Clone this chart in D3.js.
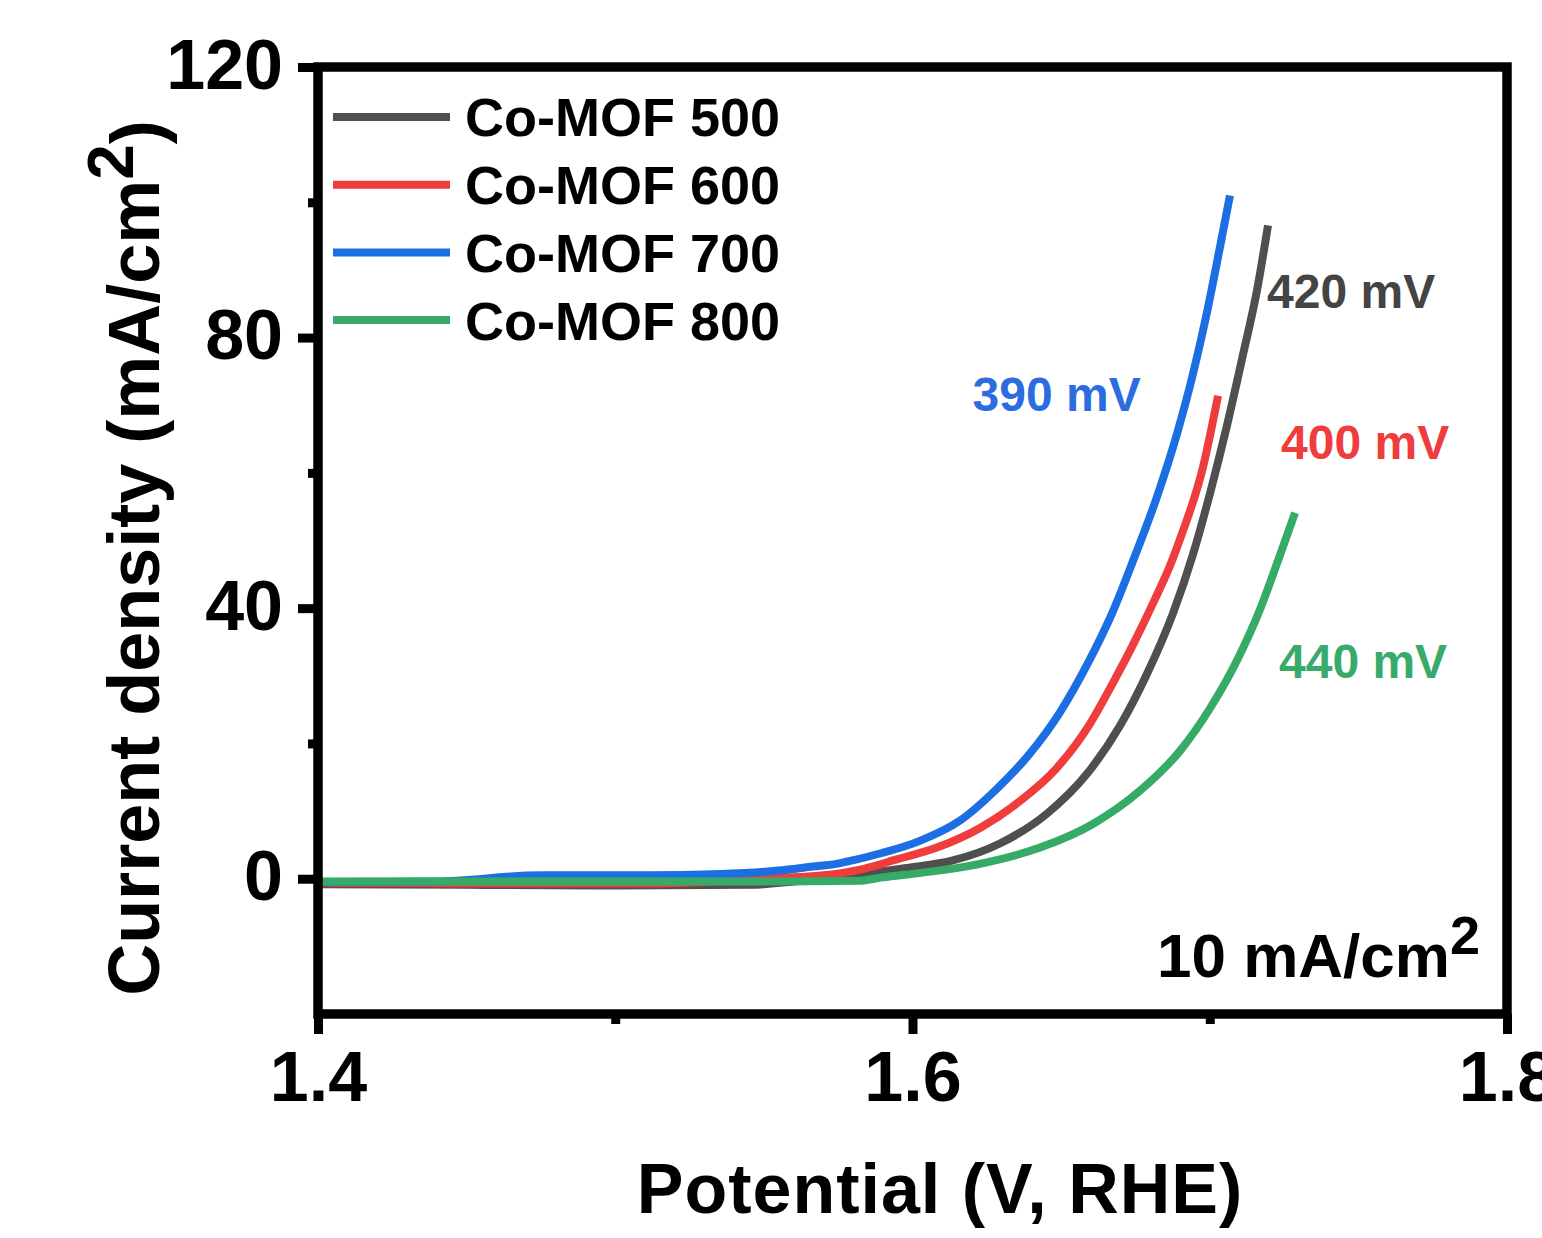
<!DOCTYPE html>
<html>
<head>
<meta charset="utf-8">
<script src="https://d3js.org/d3.v7.min.js"></script>
<style>
  body { margin: 0; background: #fff; }
  text { font-family: "Liberation Sans", Arial, sans-serif; font-weight: bold; }
</style>
</head>
<body>
<svg width="1542" height="1238"></svg>
<script>
// series (V vs RHE, mA/cm2)
var seriesNames = ["Co-MOF 500", "Co-MOF 600", "Co-MOF 700", "Co-MOF 800"];

var potential500 = [1.40, 1.45, 1.50, 1.546, 1.56, 1.575, 1.598, 1.6136, 1.6294, 1.6452, 1.6587, 1.6698, 1.6789, 1.6876, 1.6944, 1.7001, 1.7058, 1.7112, 1.7159, 1.7196];
var current500   = [-0.8, -0.9, -1.0, -0.9, -0.4, 0.3, 1.6, 2.7, 5.2, 9.6, 15.5, 22.6, 30.3, 39.2, 48.0, 57.0, 67.0, 77.5, 87.0, 96.6];

var potential600 = [1.40, 1.46, 1.512, 1.524, 1.55, 1.5743, 1.582, 1.5897, 1.5934, 1.6082, 1.6227, 1.6362, 1.6486, 1.6597, 1.6675, 1.6742, 1.6809, 1.6873, 1.69, 1.6977, 1.7028];
var current600   = [-0.6, -0.7, -0.7, -0.6, 0.0, 0.7, 1.3, 2.2, 2.7, 4.6, 7.5, 11.5, 16.4, 22.9, 29.0, 34.6, 40.7, 47.0, 50.2, 60.8, 71.4];

var potential700 = [1.40, 1.44, 1.475, 1.51, 1.5356, 1.5548, 1.5665, 1.5743, 1.5806, 1.5897, 1.6025, 1.616, 1.6284, 1.6395, 1.6496, 1.6587, 1.6675, 1.6742, 1.6822, 1.689, 1.6944, 1.699, 1.7034, 1.7068];
var current700   = [-0.5, -0.4, 0.5, 0.5, 0.7, 1.2, 1.8, 2.2, 2.8, 3.8, 5.6, 8.6, 13.3, 18.5, 24.6, 31.6, 39.6, 47.0, 56.4, 65.8, 74.7, 83.6, 93.3, 101.0];

var potential800 = [1.40, 1.45, 1.50, 1.55, 1.582, 1.59, 1.6035, 1.6227, 1.6429, 1.6607, 1.6765, 1.69, 1.7001, 1.7092, 1.7169, 1.7236, 1.7287];
var current800   = [-0.4, -0.4, -0.4, -0.4, -0.3, 0.2, 0.9, 2.2, 4.6, 8.1, 13.0, 18.9, 25.2, 32.3, 39.8, 47.8, 54.1];

var xTicks = [1.4, 1.6, 1.8],
    xMinor = [1.5, 1.7],
    yTicks = [0, 40, 80, 120],
    yMinor = [20, 60, 100];

// overpotential labels at 10 mA/cm2, anchored in data coords
var labelText = ["420 mV", "400 mV", "390 mV", "440 mV"],
    labelV    = [1.7193, 1.7240, 1.6202, 1.7233],
    labelJ    = [84.3, 62.1, 69.2, 29.6];

var colors = ["#4f4f4f", "#ef3c3c", "#1c6fe2", "#36ab68"],
    labelColors = ["#444444", "#ef3c3c", "#2b6de0", "#38aa6a"];

var svg = d3.select("svg"),
    margin = {top: 67, right: 35, bottom: 224, left: 318},
    width = 1507 - margin.left,
    height = 1014 - margin.top,
    g = svg.append("g").attr("transform", "translate(" + margin.left + "," + margin.top + ")");

var x = d3.scaleLinear().domain([1.4, 1.8]).range([0, width]),
    y = d3.scaleLinear().domain([-20, 120]).range([height, 0]);

var line = d3.line()
    .curve(d3.curveMonotoneX)
    .x(function(d) { return x(d[0]); })
    .y(function(d) { return y(d[1]); });

var series = [
  d3.zip(potential500, current500),
  d3.zip(potential600, current600),
  d3.zip(potential700, current700),
  d3.zip(potential800, current800)
];

g.selectAll(".lsv")
  .data(series)
  .enter().append("path")
    .attr("class", "lsv")
    .attr("d", line)
    .attr("fill", "none")
    .attr("stroke-width", 8)
    .attr("stroke-linejoin", "round")
    .style("stroke", function(d, i) { return colors[i]; });

// axes: outward ticks, frame drawn separately
function styleAxis(sel) {
  sel.select(".domain").remove();
  sel.selectAll("line").attr("stroke", "#000").attr("stroke-width", 9);
  sel.selectAll("text").attr("fill", "#000").style("font-size", "70px")
     .style("font-family", "'Liberation Sans', Arial, sans-serif").style("font-weight", "bold");
}

g.append("g")
  .attr("transform", "translate(0," + height + ")")
  .call(d3.axisBottom(x).tickValues(xTicks).tickFormat(d3.format(".1f")).tickSize(20).tickPadding(17))
  .call(styleAxis);

g.append("g")
  .attr("transform", "translate(0," + height + ")")
  .call(d3.axisBottom(x).tickValues(xMinor).tickFormat("").tickSize(10))
  .call(styleAxis);

g.append("g")
  .call(d3.axisLeft(y).tickValues(yTicks).tickSize(20).tickPadding(15))
  .call(styleAxis)
  .selectAll("text").attr("dy", "0.3em");

g.append("g")
  .call(d3.axisLeft(y).tickValues(yMinor).tickFormat("").tickSize(10))
  .call(styleAxis);

g.append("rect")
  .attr("width", width)
  .attr("height", height)
  .attr("fill", "none")
  .attr("stroke", "#000")
  .attr("stroke-width", 9.5);

// legend
var legend = g.selectAll(".legend")
  .data(seriesNames)
  .enter().append("g")
    .attr("class", "legend")
    .attr("transform", function(d, i) { return "translate(15," + (50 + i * 67.7) + ")"; });

legend.append("line")
  .attr("x1", 0).attr("x2", 117)
  .attr("stroke-width", 8)
  .style("stroke", function(d, i) { return colors[i]; });

legend.append("text")
  .attr("x", 132)
  .attr("dy", "0.36em")
  .style("font-size", "54px")
  .attr("fill", "#000")
  .text(function(d) { return d; });

// overpotential annotations
g.selectAll(".eta")
  .data(labelText)
  .enter().append("text")
    .attr("class", "eta")
    .attr("x", function(d, i) { return x(labelV[i]); })
    .attr("y", function(d, i) { return y(labelJ[i]); })
    .style("font-size", "48px")
    .attr("fill", function(d, i) { return labelColors[i]; })
    .text(function(d) { return d; });

var ref = g.append("text")
  .attr("x", x(1.7909))
  .attr("y", y(-14.5))
  .attr("text-anchor", "end")
  .style("font-size", "62px")
  .attr("fill", "#000");
ref.append("tspan").text("10 mA/cm");
ref.append("tspan").attr("dy", "-0.42em").style("font-size", "54px").text("2");

// axis titles
svg.append("text")
  .attr("x", 940)
  .attr("y", 1213)
  .attr("text-anchor", "middle")
  .style("font-size", "70px")
  .style("letter-spacing", "1px")
  .attr("fill", "#000")
  .text("Potential (V, RHE)");

var yTitle = svg.append("text")
  .attr("transform", "translate(159,558) rotate(-90)")
  .attr("text-anchor", "middle")
  .style("font-size", "72px")
  .attr("fill", "#000");
yTitle.append("tspan").text("Current density (mA/cm");
yTitle.append("tspan").attr("dy", "-0.4em").style("font-size", "64px").text("2");
yTitle.append("tspan").attr("dy", "0.4em").text(")");
</script>
</body>
</html>
